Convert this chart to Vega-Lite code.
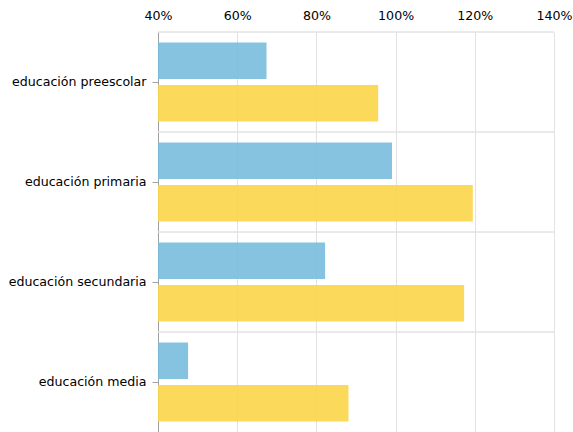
{
  "$schema": "https://vega.github.io/schema/vega-lite/v6.json",
  "width": 396,
  "height": 400,
  "autosize": {"type": "none"},
  "padding": {"left": 158, "top": 32, "right": 19, "bottom": 0},
  "background": "#ffffff",
  "config": {
    "font": "DejaVu Sans",
    "view": {"stroke": null},
    "axis": {"labelFont": "DejaVu Sans", "labelFontSize": 12, "labelColor": "#000000"}
  },
  "data": {
    "values": [
      {"nivel": "educación preescolar", "serie": "tasa neta", "valor": 67.4},
      {"nivel": "educación preescolar", "serie": "tasa bruta", "valor": 95.6},
      {"nivel": "educación primaria", "serie": "tasa neta", "valor": 99.1},
      {"nivel": "educación primaria", "serie": "tasa bruta", "valor": 119.5},
      {"nivel": "educación secundaria", "serie": "tasa neta", "valor": 82.2},
      {"nivel": "educación secundaria", "serie": "tasa bruta", "valor": 117.3},
      {"nivel": "educación media", "serie": "tasa neta", "valor": 47.6},
      {"nivel": "educación media", "serie": "tasa bruta", "valor": 88.1}
    ]
  },
  "layer": [
    {
      "mark": {"type": "rule", "color": "#e2e2e2", "strokeWidth": 1},
      "encoding": {
        "y": {"field": "nivel", "type": "nominal", "sort": null, "bandPosition": 0}
      }
    },
    {
      "mark": {"type": "bar", "clip": true, "opacity": 0.9},
      "encoding": {
        "y": {
          "field": "nivel",
          "type": "nominal",
          "sort": null,
          "scale": {"paddingInner": 0, "paddingOuter": 0},
          "axis": {
            "title": null,
            "grid": false,
            "domainColor": "#a0a0a0",
            "tickColor": "#a0a0a0",
            "tickSize": 6,
            "labelPadding": 6,
            "labelFontSize": 12.6
          }
        },
        "yOffset": {
          "field": "serie",
          "type": "nominal",
          "sort": ["tasa neta", "tasa bruta"],
          "scale": {"paddingInner": 0.14, "paddingOuter": 0.247}
        },
        "x": {
          "field": "valor",
          "type": "quantitative",
          "scale": {"domain": [40, 140], "zero": false, "nice": false},
          "axis": {
            "title": null,
            "orient": "top",
            "values": [40, 60, 80, 100, 120, 140],
            "labelExpr": "datum.value + '%'",
            "labelFlush": false,
            "labelFontSize": 12.6,
            "grid": true,
            "gridColor": "#e2e2e2",
            "ticks": false,
            "domain": false,
            "labelPadding": 10
          }
        },
        "color": {
          "field": "serie",
          "type": "nominal",
          "scale": {"domain": ["tasa neta", "tasa bruta"], "range": ["#79bdde", "#fbd549"]},
          "legend": null
        }
      }
    }
  ]
}
